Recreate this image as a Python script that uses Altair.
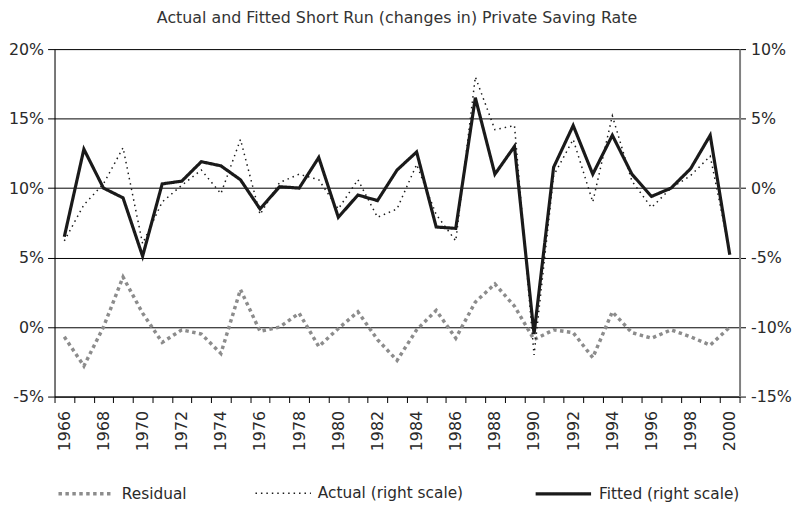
import altair as alt
import pandas as pd

years = list(range(1966, 2001))
residual = [-0.7, -2.8, 0.0, 3.6, 1.0, -1.1, -0.2, -0.5, -1.9, 2.7,
            -0.3, 0.0, 1.0, -1.4, -0.1, 1.1, -0.9, -2.4, -0.2, 1.2,
            -0.8, 1.8, 3.1, 1.5, -0.9, -0.2, -0.4, -2.2, 1.1, -0.4,
            -0.8, -0.2, -0.7, -1.3, 0.0]
actual = [-3.8, -1.2, 0.3, 2.9, -4.0, -1.0, 0.2, 1.3, -0.4, 3.5,
          -1.9, 0.4, 1.0, 0.6, -1.5, 0.6, -2.1, -1.5, 1.7, -1.9,
          -3.8, 8.0, 4.2, 4.5, -12.0, 0.9, 3.5, -1.0, 5.2, 0.5,
          -1.4, 0.0, 0.9, 2.3, -4.6]
fitted = [-3.5, 2.8, 0.0, -0.7, -4.9, 0.3, 0.5, 1.9, 1.6, 0.6,
          -1.5, 0.1, 0.0, 2.2, -2.1, -0.5, -0.9, 1.3, 2.6, -2.8,
          -2.9, 6.5, 1.0, 3.0, -10.5, 1.5, 4.5, 1.0, 3.8, 1.0,
          -0.6, 0.0, 1.4, 3.8, -4.8]
series_names = ["Residual", "Actual (right scale)", "Fitted (right scale)"]
left_ticks = [-5, 0, 5, 10, 15, 20]
right_ticks = [-15, -10, -5, 0, 5, 10]

rows = []
for name, vals in zip(series_names, [residual, actual, fitted]):
    for yr, v in zip(years, vals):
        rows.append({"year": yr, "value": v, "series": name})
df = pd.DataFrame(rows)

FONT = "DejaVu Sans"
TXT = "#2a2a2a"

legend = alt.Legend(orient="none", legendX=2, legendY=419, direction="horizontal",
                    title=None, symbolType="stroke", symbolSize=3136,
                    labelFontSize=15.5, labelFont=FONT, labelColor=TXT,
                    labelOffset=6, columnPadding=66)

x = alt.X("year:O", bandPosition=0.5, title=None,
          scale=alt.Scale(type="band", paddingInner=0, paddingOuter=0),
          axis=alt.Axis(labelAngle=270, labelExpr="datum.value % 2 == 0 ? datum.value : ''",
                        tickBand="extent", tickSize=6, tickColor="#000", domainColor="#000",
                        labelPadding=8, labelFontSize=16, labelFont=FONT, labelColor=TXT,
                        grid=False, labelAlign="right", labelBaseline="middle"))

color = alt.Color("series:N", scale=alt.Scale(type="ordinal", domain=series_names,
                  range=["#8c8c8c", "#1a1a1a", "#1a1a1a"]), legend=legend)
dash = alt.StrokeDash("series:N", scale=alt.Scale(type="ordinal", domain=series_names,
                      range=[[3.5, 3.5], [1.5, 4], [1, 0]]), legend=legend)
width = alt.StrokeWidth("series:N", scale=alt.Scale(type="ordinal", domain=series_names,
                        range=[3.5, 1.5, 3.2]), legend=legend)

left_axis = alt.Axis(values=left_ticks, labelExpr="datum.value + '%'", grid=True,
                     gridColor="#000", gridWidth=1, domainColor="#000", tickColor="#000",
                     tickSize=7, labelPadding=4, labelFontSize=16, labelFont=FONT,
                     labelColor=TXT, title=None, orient="left")
right_axis = alt.Axis(values=right_ticks, labelExpr="datum.value + '%'", grid=False,
                      domainColor="#808080", domainWidth=2, tickColor="#000",
                      tickSize=6, labelPadding=5, labelFontSize=16, labelFont=FONT,
                      labelColor=TXT, title=None, orient="right")

base = alt.Chart(df)

left = base.transform_filter(alt.datum.series == "Residual").mark_line().encode(
    x=x,
    y=alt.Y("value:Q", scale=alt.Scale(domain=[-5, 20], nice=False, zero=False), axis=left_axis),
    color=color, strokeDash=dash, strokeWidth=width,
)

ry = alt.Y("value:Q", scale=alt.Scale(domain=[-15, 10], nice=False, zero=False), axis=right_axis)
act = base.transform_filter(alt.datum.series == "Actual (right scale)").mark_line().encode(
    x=x, y=ry, color=color, strokeDash=dash, strokeWidth=width)
fit = base.transform_filter(alt.datum.series == "Fitted (right scale)").mark_line(strokeJoin="miter").encode(
    x=x, y=ry, color=color, strokeDash=dash, strokeWidth=width)

right = alt.layer(act, fit)

chart = alt.layer(left, right).resolve_scale(y="independent").properties(
    width=692, height=351,
    title=alt.TitleParams("Actual and Fitted Short Run (changes in) Private Saving Rate",
                          fontSize=16, font=FONT, fontWeight="normal", color="#333",
                          offset=15, anchor="middle"),
    autosize=alt.AutoSizeParams(type="none"),
    padding={"left": 47, "top": 39, "right": 56, "bottom": 106},
).configure_view(stroke=None).configure(background="white")

chart.save("out.html", embed_options={"renderer": "svg", "actions": False})
